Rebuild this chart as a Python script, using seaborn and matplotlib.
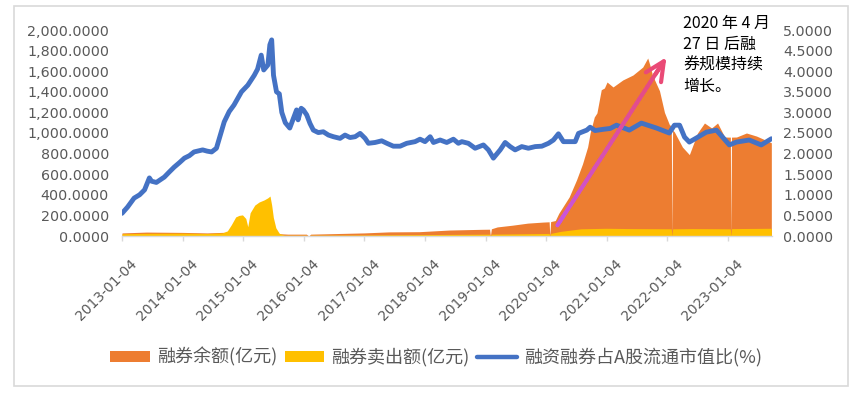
import matplotlib
matplotlib.use("Agg")
import matplotlib.pyplot as plt
import matplotlib.dates as mdates
from matplotlib.collections import LineCollection
from matplotlib.ticker import FuncFormatter
from matplotlib.lines import Line2D
from matplotlib.patches import Patch, Rectangle
from matplotlib.transforms import ScaledTranslation
import matplotlib.colors as mcolors
import numpy as np
import pandas as pd
import seaborn as sns

sns.set_theme(style="white")
plt.rcParams['font.family'] = ['Noto Sans CJK SC', 'DejaVu Sans']

# ---------------- data ----------------
ratio_dates = [
    "2013-01-04", "2013-02-06", "2013-03-18", "2013-04-20", "2013-05-20", "2013-06-18",
    "2013-07-01", "2013-07-30", "2013-09-16", "2013-10-15", "2013-11-14", "2013-12-16",
    "2014-01-15", "2014-02-14", "2014-03-14", "2014-05-05", "2014-06-01", "2014-06-28",
    "2014-07-27", "2014-09-12", "2014-10-12", "2014-11-10", "2014-12-25", "2015-02-01",
    "2015-03-12", "2015-04-01", "2015-04-23", "2015-05-08", "2015-06-02", "2015-06-14",
    "2015-06-25", "2015-07-06", "2015-07-24", "2015-08-10", "2015-08-25", "2015-09-15",
    "2015-10-12", "2015-11-22", "2015-12-01", "2015-12-20", "2016-01-02", "2016-01-22",
    "2016-02-11", "2016-03-02", "2016-04-01", "2016-05-01", "2016-06-01", "2016-07-01",
    "2016-08-10", "2016-09-09", "2016-10-09", "2016-11-09", "2016-12-09", "2017-01-08",
    "2017-01-28", "2017-03-09", "2017-04-18", "2017-05-19", "2017-06-27", "2017-08-07",
    "2017-09-16", "2017-11-05", "2017-12-05", "2018-01-04", "2018-02-04", "2018-02-24",
    "2018-04-05", "2018-05-15", "2018-06-24", "2018-07-24", "2018-08-14", "2018-09-22",
    "2018-11-02", "2018-12-22", "2019-01-21", "2019-02-20", "2019-04-02", "2019-05-02",
    "2019-06-01", "2019-07-01", "2019-08-10", "2019-09-19", "2019-10-30", "2019-12-09",
    "2020-01-18", "2020-02-17", "2020-03-18", "2020-04-17", "2020-05-27", "2020-06-27",
    "2020-07-17", "2020-09-05", "2020-09-25", "2020-10-25", "2020-12-14", "2021-01-24",
    "2021-03-03", "2021-05-19", "2021-07-31", "2021-10-30", "2022-01-15", "2022-02-15",
    "2022-03-18", "2022-04-17", "2022-05-16", "2022-06-28", "2022-08-26", "2022-10-26",
    "2022-12-02", "2023-01-12", "2023-02-24", "2023-05-12", "2023-07-23", "2023-09-22",
]
ratio_values = [
    0.55, 0.70, 0.92, 1.00, 1.12, 1.41,
    1.33, 1.30, 1.43, 1.55, 1.67, 1.78,
    1.89, 1.95, 2.04, 2.09, 2.06, 2.04,
    2.13, 2.77, 3.02, 3.18, 3.50, 3.66,
    3.90, 4.05, 4.39, 4.03, 4.15, 4.64,
    4.76, 3.90, 3.50, 3.45, 3.00, 2.75,
    2.62, 3.06, 2.82, 3.10, 3.06, 2.94,
    2.73, 2.57, 2.51, 2.53, 2.45, 2.41,
    2.37, 2.45, 2.39, 2.41, 2.49, 2.37,
    2.25, 2.27, 2.31, 2.25, 2.18, 2.18,
    2.25, 2.29, 2.35, 2.29, 2.41, 2.27,
    2.33, 2.27, 2.35, 2.25, 2.29, 2.25,
    2.13, 2.21, 2.09, 1.89, 2.09, 2.27,
    2.17, 2.09, 2.17, 2.13, 2.17, 2.18,
    2.25, 2.33, 2.48, 2.29, 2.29, 2.29,
    2.49, 2.57, 2.64, 2.56, 2.59, 2.61,
    2.69, 2.57, 2.74, 2.62, 2.50, 2.69,
    2.69, 2.40, 2.28, 2.38, 2.52, 2.57,
    2.40, 2.21, 2.28, 2.33, 2.21, 2.36,
]

balance_dates = [
    "2013-01-04", "2013-06-01", "2014-01-01", "2014-06-01", "2014-12-01", "2015-03-01",
    "2015-06-15", "2015-07-10", "2015-08-15", "2015-10-01", "2016-01-20", "2016-02-03",
    "2016-02-15", "2016-06-01", "2017-01-01", "2017-06-01", "2017-12-01", "2018-06-01",
    "2018-12-15", "2019-01-28", "2019-02-02", "2019-02-08", "2019-03-15", "2019-06-15",
    "2019-09-15", "2019-12-15", "2020-01-22", "2020-01-26", "2020-01-31", "2020-02-28",
    "2020-03-20", "2020-05-22", "2020-07-05", "2020-08-10", "2020-09-10", "2020-09-25",
    "2020-10-20", "2020-11-05", "2020-12-01", "2020-12-20", "2021-01-05", "2021-02-10",
    "2021-04-10", "2021-06-10", "2021-08-08", "2021-09-07", "2021-09-20", "2021-10-06",
    "2021-11-17", "2021-12-17", "2022-01-16", "2022-01-27", "2022-01-31", "2022-02-04",
    "2022-02-15", "2022-04-04", "2022-05-16", "2022-07-04", "2022-08-15", "2022-09-27",
    "2022-11-02", "2022-12-15", "2023-01-18", "2023-01-21", "2023-01-25", "2023-02-24",
    "2023-04-25", "2023-06-25", "2023-08-20", "2023-09-22",
]
balance_values = [
    30, 38, 35, 30, 40, 55,
    60, 40, 22, 18, 18, 0,
    18, 22, 30, 40, 42, 58,
    65, 66, 0, 70, 88, 105,
    125, 135, 138, 0, 140, 150,
    220, 380, 545, 700, 865, 1000,
    1155, 1195, 1420, 1437, 1495, 1447,
    1515, 1563, 1640, 1728, 1660, 1560,
    1410, 1200, 1080, 1070, 0, 1030,
    1010, 864, 790, 1000, 1097, 1049,
    1097, 961, 960, 0, 960, 961,
    1000, 970, 930, 905,
]

sales_dates = [
    "2013-01-04", "2013-06-01", "2014-01-01", "2014-06-01", "2014-09-01", "2014-10-01",
    "2014-10-25", "2014-11-20", "2014-12-10", "2014-12-31", "2015-01-20", "2015-02-01",
    "2015-02-15", "2015-03-15", "2015-04-10", "2015-05-10", "2015-06-01", "2015-06-15",
    "2015-06-25", "2015-07-05", "2015-07-20", "2015-08-10", "2015-09-10", "2016-01-20",
    "2016-02-03", "2016-02-15", "2017-01-01", "2018-01-01", "2019-01-28", "2019-02-02",
    "2019-02-08", "2019-06-01", "2020-01-22", "2020-01-26", "2020-01-31", "2020-04-01",
    "2020-08-01", "2021-01-01", "2021-06-01", "2022-01-27", "2022-01-31", "2022-02-04",
    "2022-06-01", "2023-01-18", "2023-01-21", "2023-01-25", "2023-09-22",
]
sales_values = [
    22, 26, 28, 24, 30, 50,
    110, 185, 200, 205, 170, 90,
    225, 300, 330, 350, 370, 388,
    300, 180, 80, 25, 8, 8,
    0, 8, 10, 14, 18, 0,
    18, 20, 25, 0, 25, 45,
    70, 75, 72, 70, 0, 70,
    72, 70, 0, 72, 75,
]

tick_dates = ["2013-01-04", "2014-01-04", "2015-01-04", "2016-01-04", "2017-01-04", "2018-01-04",
              "2019-01-04", "2020-01-04", "2021-01-04", "2022-01-04", "2023-01-04"]
legend_labels = ["融券余额(亿元)", "融券卖出额(亿元)", "融资融券占A股流通市值比(%)"]
note_text = "2020 年 4 月\n27 日 后融\n券规模持续\n增长。"

# ---------------- figure ----------------
W, H = 865, 394
fig = plt.figure(figsize=(W / 100, H / 100), dpi=100)
fig.patch.set_facecolor("white")

ax = fig.add_axes([122 / W, 1 - 236 / H, (772 - 122) / W, (236 - 30) / H])
ax2 = ax.twinx()
ax.set_facecolor("none")
ax2.set_facecolor("none")

c_orange, c_yellow, c_blue = "#ED7D31", "#FFC000", "#4472C4"
label_color = "#595959"
axis_color = "#D9D9D9"

bd = pd.to_datetime(balance_dates)
sd = pd.to_datetime(sales_dates)
rd = pd.to_datetime(ratio_dates)

ax.fill_between(bd, 0, balance_values, color=c_orange, lw=0, zorder=1)
ax.fill_between(sd, 0, sales_values, color=c_yellow, lw=0, zorder=2)

df_ratio = pd.DataFrame({"date": rd, "ratio": ratio_values})
sns.lineplot(data=df_ratio, x="date", y="ratio", ax=ax2, color=c_blue, lw=3.5,
             estimator=None, sort=False, zorder=3)

# axes ranges
ax.set_xlim(pd.Timestamp("2013-01-04"), pd.Timestamp("2023-09-26"))
ax.set_ylim(0, 2000)
ax2.set_ylim(0, 5)
ax.set_xlabel("")
ax.set_ylabel("")
ax2.set_xlabel("")
ax2.set_ylabel("")

ax.set_yticks(np.arange(0, 2001, 200))
ax.yaxis.set_major_formatter(FuncFormatter(lambda v, p: f"{v:,.4f}"))
ax2.set_yticks(np.arange(0, 5.01, 0.5))
ax2.yaxis.set_major_formatter(FuncFormatter(lambda v, p: f"{v:.4f}"))

ax.set_xticks(pd.to_datetime(tick_dates))
ax.xaxis.set_major_formatter(mdates.DateFormatter("%Y-%m-%d"))

for s in ax.spines.values():
    s.set_visible(False)
for s in ax2.spines.values():
    s.set_visible(False)
ax.spines["bottom"].set_visible(True)
ax.spines["bottom"].set_color(axis_color)
ax.spines["bottom"].set_linewidth(1.0)

ax.tick_params(axis="y", left=False, length=0, pad=9.4, labelsize=10.3,
               labelcolor=label_color, labelfontfamily="DejaVu Sans")
ax2.tick_params(axis="y", right=False, length=0, pad=8, labelsize=10.3,
                labelcolor=label_color, labelfontfamily="DejaVu Sans")
ax.tick_params(axis="x", bottom=True, length=3.6, width=1.0, color=axis_color,
               direction="out", pad=11.5, labelsize=10, labelcolor=label_color,
               labelfontfamily="DejaVu Sans")
ax2.tick_params(axis="x", bottom=False, top=False, labelbottom=False)

off = ScaledTranslation(8 / 100, 0, fig.dpi_scale_trans)
for lbl in ax.get_xticklabels():
    lbl.set_rotation(45)
    lbl.set_ha("right")
    lbl.set_va("top")
    lbl.set_rotation_mode("anchor")
    lbl.set_transform(lbl.get_transform() + off)

# ---------------- gradient arrow (annotation) ----------------
tail = (mdates.date2num(pd.Timestamp("2020-03-12")), 0.26)
tip = (mdates.date2num(pd.Timestamp("2021-12-29")), 4.34)
c0 = np.array(mcolors.to_rgb("#C855E0"))
c1 = np.array(mcolors.to_rgb("#EA4A76"))
n = 40
ts = np.linspace(0, 0.97, n + 1)
px = tail[0] + (tip[0] - tail[0]) * ts
py = tail[1] + (tip[1] - tail[1]) * ts
segs = [[(px[i], py[i]), (px[i + 1], py[i + 1])] for i in range(n)]
cols = [tuple(c0 + (c1 - c0) * (i / (n - 1))) for i in range(n)]
lc = LineCollection(segs, colors=cols, linewidths=3.0, capstyle="round", zorder=6)
ax2.add_collection(lc)
near = (tail[0] + (tip[0] - tail[0]) * 0.9, tail[1] + (tip[1] - tail[1]) * 0.9)
ax2.annotate("", xy=tip, xytext=near,
             arrowprops=dict(arrowstyle="->,head_length=1.37,head_width=0.65",
                             lw=3.0, color=tuple(c1), shrinkA=0, shrinkB=0,
                             mutation_scale=10, capstyle="round", joinstyle="round"),
             zorder=7)

# ---------------- note text ----------------
fig.text(683 / W, 1 - 15 / H, note_text, ha="left", va="top", fontsize=11.5,
         linespacing=1.31, color="black")

# ---------------- legend ----------------
handles = [Patch(facecolor=c_orange, edgecolor="none"),
           Patch(facecolor=c_yellow, edgecolor="none"),
           Line2D([0], [0], color=c_blue, lw=3.2)]
fig.legend(handles, legend_labels, loc="center", bbox_to_anchor=(436 / W, 1 - 357 / H),
           ncol=3, frameon=False, fontsize=13, handlelength=2.2, handleheight=0.6,
           handletextpad=0.4, columnspacing=0.4, labelcolor=label_color, borderpad=0)

# ---------------- outer frame ----------------
fig.patches.append(Rectangle((14 / W, 1 - 386 / H), (848 - 14) / W, (386 - 6) / H,
                             transform=fig.transFigure, fill=False,
                             edgecolor=axis_color, lw=1.2))

fig.savefig("out.png", dpi=100, facecolor="white")
